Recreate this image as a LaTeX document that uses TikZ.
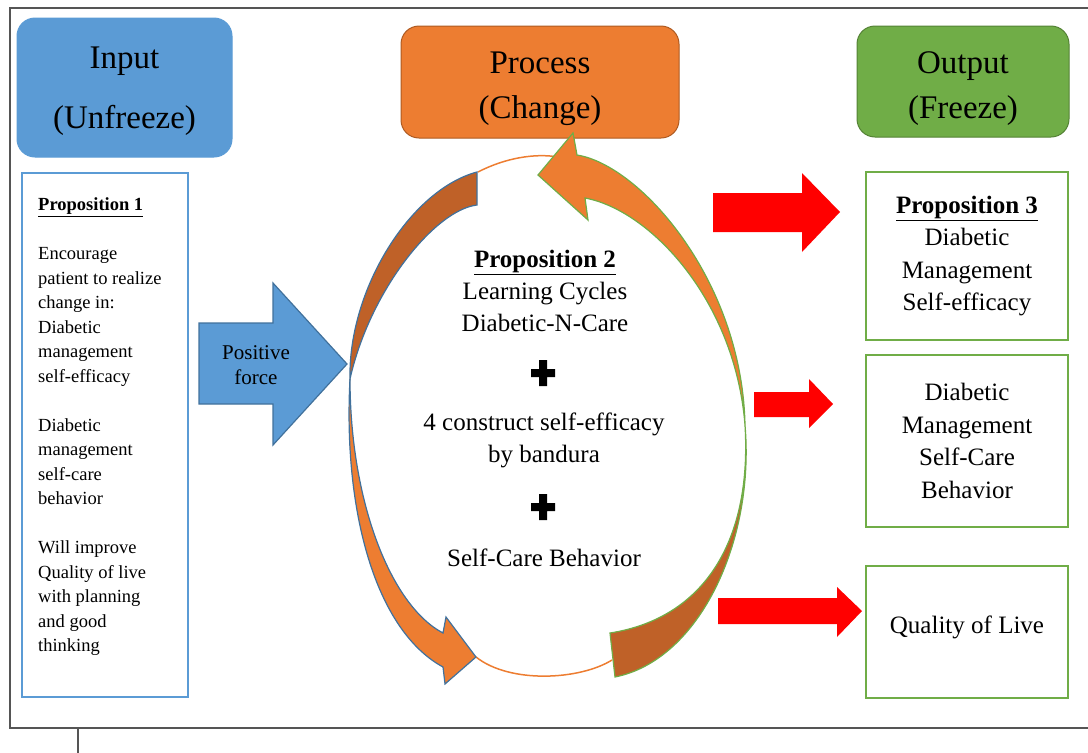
\documentclass[tikz,border=0pt]{standalone}
\usepackage{fontspec}
\setmainfont{Liberation Serif}
\usepackage{tikz}
\definecolor{inblue}{HTML}{5B9BD5}
\definecolor{inblueline}{HTML}{41719C}
\definecolor{procorange}{HTML}{ED7D31}
\definecolor{procline}{HTML}{AE5A21}
\definecolor{twistbrown}{HTML}{BF6128}
\definecolor{outgreen}{HTML}{70AD47}
\definecolor{greenline}{HTML}{548235}
\definecolor{framegray}{HTML}{555555}

\begin{document}
\begin{tikzpicture}[x=1pt,y=-1pt,
  hdr/.style={rounded corners=18pt,line width=1pt,inner sep=0pt},
  hdrtext/.style={align=center,inner sep=0pt},
  txtbox/.style={draw,line width=1.8pt,fill=white,inner sep=0pt,align=center,font=\fontsize{25}{32.5}\selectfont},
  bodytext/.style={align=center,inner sep=0pt,font=\fontsize{25}{32}\selectfont},
  bigarrow/.style={fill=red}]
\useasboundingbox (0,0) rectangle (1088,753);
\draw[framegray,line width=1.5pt] (1088,8) -- (10,8) -- (10,728) -- (1088,728);
\draw[framegray,line width=1.2pt] (78,728) -- (78,753);

\node[hdr,fill=inblue,draw=inblue,minimum width=215,minimum height=139] (inp) at (124.5,87.5) {};
\node[hdrtext,font=\fontsize{33}{60}\selectfont] (inptext) at (124.5,91) {Input\\(Unfreeze)};
\node[hdr,fill=procorange,draw=procline,minimum width=278,minimum height=112] (proc) at (540,82) {};
\node[hdrtext,font=\fontsize{33}{45}\selectfont] (proctext) at (540,89) {Process\\(Change)};
\node[hdr,fill=outgreen,draw=greenline,minimum width=212,minimum height=111] (outp) at (963,81.5) {};
\node[hdrtext,font=\fontsize{33}{45}\selectfont] (outptext) at (963,89) {Output\\(Freeze)};

\node[txtbox,draw=inblue,minimum width=166,minimum height=524] (propone) at (105,435) {};
\node[anchor=west,align=left,inner sep=0pt,font=\fontsize{18.5}{24.5}\selectfont] (onetext) at (38,427) {\underline{\textbf{Proposition 1}}\\[24.5pt]
  Encourage\\patient to realize\\change in:\\Diabetic\\management\\self-efficacy\\[24.5pt]
  Diabetic\\management\\self-care\\behavior\\[24.5pt]
  Will improve\\Quality of live\\with planning\\and good\\thinking};

\filldraw[fill=inblue,draw=inblueline,line width=1.2pt] (199,323) -- (273,323) -- (273,283) -- (347,364) -- (273,445) -- (273,404) -- (199,404) -- cycle;
\node[align=center,inner sep=0pt,font=\fontsize{21}{25}\selectfont] (force) at (256,365) {Positive\\force};

\draw[procorange,line width=1.5pt] (478,172) .. controls (505,158) and (535,153) .. (558,157);
\draw[procorange,line width=1.5pt] (476,657) .. controls (510,684) and (580,680) .. (612,660);
\filldraw[fill=twistbrown,draw=inblueline,line width=1.2pt] (477,172) .. controls (410,190) and (348,290) .. (350,379) .. controls (370,290) and (435,210) .. (477,205) -- cycle;
\filldraw[fill=procorange,draw=inblueline,line width=1.2pt] (350,379) .. controls (343,510) and (375,630) .. (443,667) -- (445,684) -- (476,657) -- (446,617) -- (443,633) .. controls (390,605) and (350,500) .. (350,379) -- cycle;
\filldraw[fill=twistbrown,draw=outgreen,line width=1.2pt] (615,677) .. controls (700,660) and (755,540) .. (745,425) .. controls (752,540) and (705,618) .. (610,633) -- cycle;
\filldraw[fill=procorange,draw=outgreen,line width=1.2pt] (745,425) .. controls (742,280) and (640,165) .. (577,155) -- (573,133) -- (538,175) -- (588,220) -- (585,198) .. controls (650,210) and (735,300) .. (745,425) -- cycle;

\node[bodytext] (proptwo) at (545,291) {\underline{\textbf{Proposition 2}}\\Learning Cycles\\Diabetic-N-Care};
\node[bodytext] (construct) at (544,440) {4 construct self-efficacy\\by bandura};
\node[bodytext] (selfcare) at (544,558) {Self-Care Behavior};
\foreach \py in {373,507}
  \fill (539,\py-13) rectangle (547,\py+13) (531,\py-4) rectangle (555,\py+4);

\fill[bigarrow] (713,193) -- (802,193) -- (802,173) -- (840,212) -- (802,252) -- (802,232) -- (713,232) -- cycle;
\fill[bigarrow] (754,392) -- (809,392) -- (809,379) -- (833,404) -- (809,428) -- (809,417) -- (754,417) -- cycle;
\fill[bigarrow] (718,598) -- (837,598) -- (837,587) -- (862,611) -- (837,637) -- (837,624) -- (718,624) -- cycle;

\node[txtbox,draw=outgreen,minimum width=202,minimum height=168] (effbox) at (967,256) {\underline{\textbf{Proposition 3}}\\Diabetic\\Management\\Self-efficacy};
\node[txtbox,draw=outgreen,minimum width=202,minimum height=172] (carebox) at (967,441) {Diabetic\\Management\\Self-Care\\Behavior};
\node[txtbox,draw=outgreen,minimum width=202,minimum height=132] (qolbox) at (967,632) {};
\node[bodytext] (qoltext) at (967,627) {Quality of Live};
\end{tikzpicture}
\end{document}
